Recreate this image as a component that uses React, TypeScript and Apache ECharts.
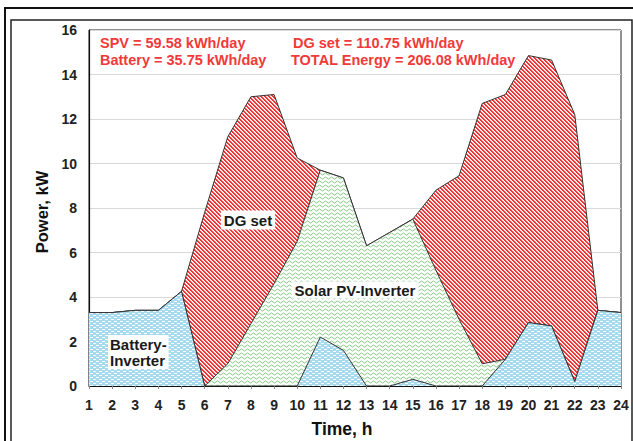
import React, { useEffect, useRef } from "react";
import * as echarts from "echarts";

const hours = ["1","2","3","4","5","6","7","8","9","10","11","12","13","14","15","16","17","18","19","20","21","22","23","24"];
const battery = [3.3, 3.3, 3.4, 3.4, 4.25, 0, 0, 0, 0, 0, 2.2, 1.6, 0, 0, 0.3, 0, 0, 0, 1.2, 2.85, 2.7, 0.2, 3.4, 3.3];
const solar = [0, 0, 0, 0, 0, 0, 1.0, 2.8, 4.6, 6.5, 7.5, 7.75, 6.3, 6.9, 7.2, 5.2, 3.0, 1.0, 0, 0, 0, 0, 0, 0];
const dgSet = [0, 0, 0, 0, 0, 7.8, 10.2, 10.2, 8.5, 3.75, 0, 0, 0, 0, 0, 3.6, 6.45, 11.7, 11.9, 12.0, 11.95, 12.0, 0, 0];
const yTicks = { min: 0, max: 16, interval: 2 };
const energyLines = [
  ["SPV = 59.58 kWh/day", "DG set = 110.75 kWh/day"],
  ["Battery = 35.75 kWh/day", "TOTAL Energy = 206.08 kWh/day"],
];

function makePattern(w: number, h: number, draw: (ctx: CanvasRenderingContext2D) => void) {
  const c = document.createElement("canvas");
  c.width = w;
  c.height = h;
  const ctx = c.getContext("2d")!;
  draw(ctx);
  return { image: c, repeat: "repeat", imageWidth: w, imageHeight: h } as any;
}

export default function App() {
  const ref = useRef<HTMLDivElement>(null);
  useEffect(() => {
    if (!ref.current) return;
    const chart = echarts.init(ref.current, null, { renderer: "svg" });

    const redPat = makePattern(4, 4, (ctx) => {
      for (let y = 0; y < 4; y++) {
        for (let x = 0; x < 4; x++) {
          const k = (((x - y) % 4) + 4) % 4;
          ctx.fillStyle = k < 2 ? "#f23434" : k === 2 ? "#fbd0d0" : "#ffffff";
          ctx.fillRect(x, y, 1, 1);
        }
      }
    });
    const greenPat = makePattern(6, 4, (ctx) => {
      ctx.fillStyle = "#ffffff";
      ctx.fillRect(0, 0, 6, 4);
      ctx.strokeStyle = "#86c986";
      ctx.lineWidth = 1;
      ctx.beginPath();
      ctx.moveTo(0, 2);
      ctx.lineTo(1.5, 1);
      ctx.lineTo(3, 2);
      ctx.lineTo(4.5, 3);
      ctx.lineTo(6, 2);
      ctx.stroke();
    });
    const bluePat = makePattern(6, 4, (ctx) => {
      ctx.fillStyle = "#a6daef";
      ctx.fillRect(0, 0, 6, 4);
      ctx.fillStyle = "#ffffff";
      ctx.fillRect(0, 1, 3, 1);
      ctx.fillRect(3, 3, 3, 1);
    });

    const tickFont = { fontFamily: "Liberation Sans, Arial, sans-serif", fontWeight: "bold" as const, fontSize: 14, color: "#222" };
    const lineStyle = { color: "#333", width: 1 };
    const red = "#f03a3a";
    const annFont = "bold 14.5px 'Liberation Sans', Arial, sans-serif";
    const labFont = "bold 15px 'Liberation Sans', Arial, sans-serif";

    chart.setOption({
      animation: false,
      backgroundColor: "#ffffff",
      grid: { left: 89, right: 12, top: 30, bottom: 55, show: true, borderColor: "#222", borderWidth: 1, backgroundColor: "#fff" },
      xAxis: {
        type: "category",
        data: hours,
        boundaryGap: false,
        axisLine: { lineStyle: { color: "#111", width: 1.2 } },
        axisTick: { show: true, length: 3, lineStyle: { color: "#888" } },
        axisLabel: { ...tickFont, margin: 12 },
        splitLine: { show: false },
      },
      yAxis: {
        type: "value",
        min: yTicks.min,
        max: yTicks.max,
        interval: yTicks.interval,
        axisLine: { show: true, lineStyle: { color: "#111", width: 1.2 } },
        axisTick: { show: false },
        axisLabel: { ...tickFont, margin: 12 },
        splitLine: { lineStyle: { color: "#d9d9d9", width: 1 } },
      },
      series: [
        { name: "Battery-Inverter", type: "line", stack: "p", data: battery, showSymbol: false, symbol: "none", lineStyle, areaStyle: { color: bluePat, opacity: 1 }, z: 3 },
        { name: "Solar PV-Inverter", type: "line", stack: "p", data: solar, showSymbol: false, symbol: "none", lineStyle, areaStyle: { color: greenPat, opacity: 1 }, z: 2 },
        { name: "DG set", type: "line", stack: "p", data: dgSet, showSymbol: false, symbol: "none", lineStyle, areaStyle: { color: redPat, opacity: 1 }, z: 1 },
      ],
      graphic: [
        { type: "rect", shape: { x: 5, y: 8, width: 660, height: 480 }, style: { fill: "none", stroke: "#111", lineWidth: 2 }, z: 100 },
        { type: "rect", shape: { x: 11, y: 20, width: 621, height: 480 }, style: { fill: "none", stroke: "#222", lineWidth: 1.5 }, z: 100 },
        { type: "text", x: 100, y: 43, style: { text: energyLines[0][0], font: annFont, fill: red, align: "left", verticalAlign: "middle" }, z: 100 },
        { type: "text", x: 100, y: 60, style: { text: energyLines[1][0], font: annFont, fill: red, align: "left", verticalAlign: "middle" }, z: 100 },
        { type: "text", x: 293, y: 43, style: { text: energyLines[0][1], font: annFont, fill: red, align: "left", verticalAlign: "middle" }, z: 100 },
        { type: "text", x: 291, y: 60, style: { text: energyLines[1][1], font: annFont, fill: red, align: "left", verticalAlign: "middle" }, z: 100 },
        { type: "text", x: 248, y: 220, style: { text: "DG set", font: labFont, fill: "#1a1a1a", align: "center", verticalAlign: "middle", backgroundColor: "#fff", padding: [2, 3] }, z: 100 },
        { type: "text", x: 355, y: 290, style: { text: "Solar PV-Inverter", font: labFont, fill: "#1a1a1a", align: "center", verticalAlign: "middle", backgroundColor: "#fff", padding: [1, 3] }, z: 100 },
        { type: "text", x: 108, y: 352, style: { text: "Battery-\nInverter", font: labFont, fill: "#1a1a1a", align: "left", verticalAlign: "middle", lineHeight: 16, backgroundColor: "#fff", padding: [1, 2] }, z: 100 },
        { type: "text", x: 342, y: 429, style: { text: "Time, h", font: "bold 17.5px 'Liberation Sans', Arial, sans-serif", fill: "#111", align: "center", verticalAlign: "middle" }, z: 100 },
        { type: "text", x: 42, y: 212, rotation: Math.PI / 2, style: { text: "Power, kW", font: "bold 16.5px 'Liberation Sans', Arial, sans-serif", fill: "#111", align: "center", verticalAlign: "middle" }, z: 100 },
      ],
    });
    return () => chart.dispose();
  }, []);
  return <div ref={ref} style={{ position: "fixed", left: 0, top: 0, width: 633, height: 441, background: "#fff" }} />;
}
